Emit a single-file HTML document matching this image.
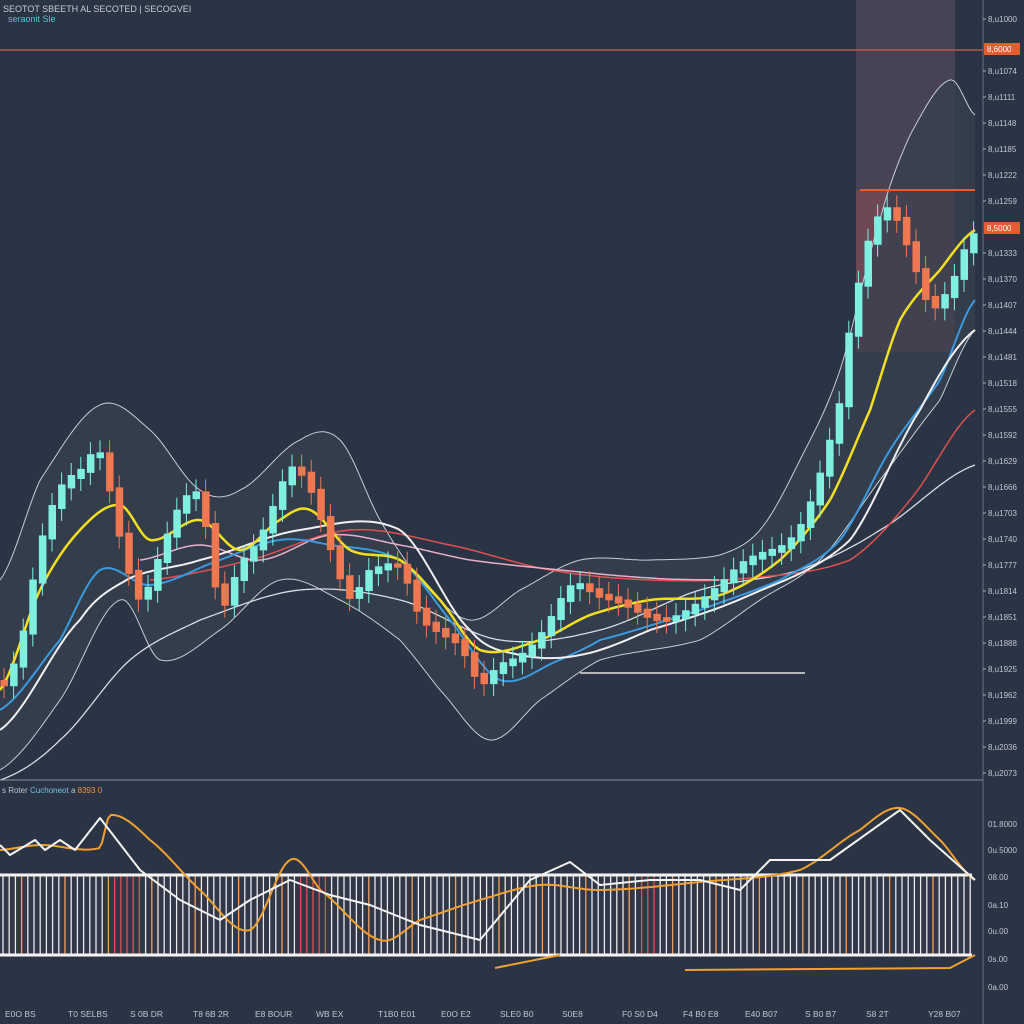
<!DOCTYPE html>
<html><head><meta charset="utf-8"><style>
html,body{margin:0;padding:0;background:#2b3444;}
svg{display:block;font-family:"Liberation Sans",sans-serif;}
</style></head><body>
<svg id="s" width="1024" height="1024" viewBox="0 0 1024 1024" xmlns="http://www.w3.org/2000/svg">
<rect width="1024" height="1024" fill="#2b3444"/>
</svg>
<script>
const s=document.getElementById('s');let h='';
function interp(p,x){for(let i=0;i<p.length-1;i++){if(x<=p[i+1][0]){const t=(x-p[i][0])/(p[i+1][0]-p[i][0]);const p0=p[Math.max(i-1,0)][1],p1=p[i][1],p2=p[i+1][1],p3=p[Math.min(i+2,p.length-1)][1];const t2=t*t,t3=t2*t;return 0.5*((2*p1)+(-p0+p2)*t+(2*p0-5*p1+4*p2-p3)*t2+(-p0+3*p1-3*p2+p3)*t3);}}return p[p.length-1][1];}
function path(pts){let d='';for(let x=pts[0][0];x<=pts[pts.length-1][0];x+=3)d+=(d?'L':'M')+x+','+interp(pts,x).toFixed(1);return d;}
h+='<rect x="856" y="0" width="99" height="190" fill="#4a4456" opacity="0.9"/>';
h+='<rect x="856" y="190" width="99" height="162" fill="#7a4e58" opacity="0.85"/>';
const up=[[0,580],[40,480],[100,405],[150,430],[200,490],[240,490],[300,440],[340,440],[380,520],[420,580],[470,620],[520,590],[580,560],[650,560],[720,555],[760,530],[800,460],[840,370],[880,220],[910,135],[950,80],[975,115]];
const lo=[[0,770],[60,700],[120,600],[160,660],[220,630],[280,580],[340,600],[400,640],[440,690],[490,740],[540,700],[600,660],[700,640],[760,600],[820,560],[880,480],[940,400],[975,330]];
let band=path(up);let lp=[];for(let x=lo[lo.length-1][0];x>=0;x-=3)lp.push('L'+x+','+interp(lo,x).toFixed(1));
h+='<path d="'+band+lp.join('')+'Z" fill="#36404f" opacity="0.8"/>';
h+='<path d="'+band+'" stroke="#c8ccd4" stroke-width="1" fill="none"/>';
h+='<path d="'+path(lo)+'" stroke="#c8ccd4" stroke-width="1" fill="none"/>';
h+='<path d="'+path([[0,780],[60,740],[130,660],[200,620],[300,590],[400,600],[500,640],[600,630],[700,590],[800,570],[880,530],[975,465]])+'" stroke="#d8dce4" stroke-width="1.3" fill="none"/>';
h+='<path d="'+path([[150,580],[250,560],[350,530],[450,545],[550,570],[650,580],[750,578],[850,560],[910,500],[975,410]])+'" stroke="#e05050" stroke-width="1.5" fill="none"/>';
h+='<path d="'+path([[140,560],[200,545],[260,560],[330,535],[400,545],[470,560],[560,570],[650,578],[720,580]])+'" stroke="#e8b0c8" stroke-width="1.5" fill="none"/>';
h+='<path d="'+path([[0,710],[60,640],[100,570],[150,585],[220,560],[280,540],[330,545],[400,560],[450,620],[500,680],[560,660],[600,640],[700,610],[780,580],[840,540],[890,450],[940,380],[975,300]])+'" stroke="#3a9ae0" stroke-width="2" fill="none"/>';
h+='<path d="'+path([[0,730],[80,620],[130,578],[200,560],[300,530],[400,530],[470,630],[520,655],[580,655],[650,630],[750,595],[850,540],[920,410],[975,330]])+'" stroke="#f0f0f4" stroke-width="2" fill="none"/>';
h+='<path d="'+path([[0,690],[40,590],[80,530],[120,505],[150,540],[200,520],[240,550],[280,520],[310,510],[350,550],[400,560],[440,600],[480,650],[540,640],[590,615],[650,600],[720,595],[780,560],[830,500],[870,410],[900,320],[940,270],[975,230]])+'" stroke="#f2e020" stroke-width="2.5" fill="none"/>';
h+='<path d="M580,673L805,673" stroke="#e0e0e0" stroke-width="1.5"/>';
h+='<path d="M860,190L975,190" stroke="#e85a30" stroke-width="2"/>';
const c=[[0,680],[20,650],[40,560],[60,500],[80,470],[100,440],[120,520],[140,590],[160,560],[180,520],[200,510],[220,600],[240,550],[260,520],[290,470],[310,500],[330,560],[350,600],[370,560],[400,550],[420,610],[440,640],[460,660],[480,690],[500,660],[520,640],[540,620],[570,590],[600,610],[640,605],[680,600],[720,595],[750,570],[780,540],[800,510],[820,460],[840,400],[850,330],[870,250],[890,220],[910,250],[930,290],[950,270],[970,230]];
let prev=interp(c,0);
for(let x=4;x<975;x+=9.6){const v=interp(c,x)+Math.sin(x*0.7)*16;const o=prev,cl=v;const u=cl<o;const col=u?'#7ff0e0':'#f07850';const top=Math.min(o,cl),bot=Math.max(o,cl)+4;
h+='<line x1="'+x+'" y1="'+(top-12)+'" x2="'+x+'" y2="'+(bot+12)+'" stroke="'+col+'" stroke-width="1"/>';
h+='<rect x="'+(x-3.5)+'" y="'+top+'" width="7.5" height="'+(bot-top)+'" fill="'+col+'"/>';prev=v;}
h+='<path d="M0,50L983,50" stroke="#d06050" stroke-width="1.2"/>';
h+='<path d="M983,0L983,1024" stroke="#6a7282" stroke-width="1"/><path d="M0,780L983,780" stroke="#8a92a0" stroke-width="1"/>';
for(let y=19,i=0;y<780;y+=26,i++){if(y>40&&y<60||y>220&&y<240)continue;h+='<line x1="983" y1="'+y+'" x2="986" y2="'+y+'" stroke="#aab"/><text x="988" y="'+(y+3)+'" font-size="8" fill="#c0c6d0">8,u'+(1000+i*37)+'</text>';}
h+='<rect x="984" y="43" width="36" height="12" fill="#e85a30"/><text x="987" y="52" font-size="8" fill="#fff">8,6000</text>';
h+='<rect x="984" y="222" width="36" height="12" fill="#e85a30"/><text x="987" y="231" font-size="8" fill="#fff">8,5000</text>';
for(const [y,t] of [[827,'01.8000'],[853,'0u.5000'],[880,'08.00'],[908,'0a.10'],[934,'0u.00'],[962,'0s.00'],[990,'0a.00']])h+='<text x="988" y="'+y+'" font-size="8" fill="#c0c6d0">'+t+'</text>';
h+='<text x="3" y="12" font-size="9" fill="#c8ccd4">SEOTOT SBEETH AL SECOTED | SECOGVEI</text><text x="8" y="22" font-size="9" fill="#5ac0d0">seraonit Sle</text>';
h+='<text x="2" y="793" font-size="8" fill="#c0c6d0">s Roter  <tspan fill="#7ac0e0">Cuchoneot</tspan> a  <tspan fill="#f09040">8393   0</tspan></text>';
h+='<rect x="0" y="873" width="972" height="84" fill="#3a3a4a" opacity="0.5"/>';
for(let x=3,i=0;x<972;x+=6.2,i++){const col=(x>110&&x<140)||(x>300&&x<330)||(x>640&&x<660)?'#e05050':(i%7==3?'#f0a060':'#e8eaf0');h+='<line x1="'+x+'" y1="875" x2="'+x+'" y2="955" stroke="'+col+'" stroke-width="1.3"/>';}
h+='<path d="M0,875L972,875M0,955L972,955" stroke="#f4f4f4" stroke-width="3"/>';
h+='<path d="'+path([[0,850],[40,845],[100,848],[110,815],[150,840],[200,890],[250,930],[290,860],[320,890],[380,940],[420,920],[480,900],[540,885],[600,890],[700,882],[800,870],[860,830],[900,808],[940,840],[975,880]])+'" stroke="#f0a030" stroke-width="2" fill="none"/>';
h+='<path d="M0,845L10,855L35,840L45,850L60,840L75,850L100,818L140,870L180,900L220,920L250,900L290,880L330,895L370,905L420,925L480,940L530,880L570,862L600,885L650,880L700,880L740,890L770,860L830,860L900,810L930,840L975,880" stroke="#f4f4f4" stroke-width="2" fill="none" stroke-linejoin="round"/>';
h+='<path d="M495,968L560,955M685,970L950,968L975,955" stroke="#f0a030" stroke-width="2" fill="none"/>';
const xl=['E0O BS','T0 SELBS','S 0B DR','T8 6B 2R','E8 BOUR','WB EX','T1B0 E01','E0O E2','SLE0 B0','S0E8','F0 S0 D4','F4 B0 E8','E40 B07','S B0 B7','S8 2T','Y28 B07'];
const xs=[5,68,130,193,255,316,378,441,500,562,622,683,745,805,866,928];
xs.forEach((x,i)=>h+='<text x="'+x+'" y="1017" font-size="8.5" fill="#c0c6d0">'+xl[i]+'</text>');
s.innerHTML+=h;
</script>
</body></html>
